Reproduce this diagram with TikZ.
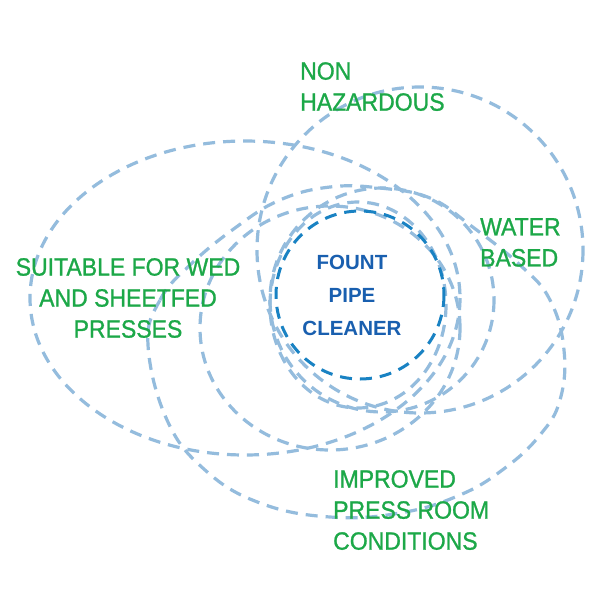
\documentclass[tikz,border=0pt]{standalone}
\usepackage{fontspec}
\setmainfont{Liberation Sans}
\newfontfamily\labfont[FakeStretch=0.92,FakeBold=1.0]{Liberation Sans}
\newfontfamily\cenfont{Liberation Sans}
\definecolor{lineblue}{RGB}{148,188,221}
\definecolor{darkring}{RGB}{25,130,195}
\definecolor{labgreen}{RGB}{28,168,72}
\definecolor{cenblue}{RGB}{25,95,175}
\begin{document}
\begin{tikzpicture}[x=1pt,y=-1pt,
  ring/.style={draw=lineblue, line width=3.2pt, dash pattern=on 12pt off 8pt},
  core/.style={draw=darkring, line width=3pt, dash pattern=on 12pt off 8pt},
  lab/.style={text=labgreen, font=\labfont\fontsize{25}{31}\selectfont, inner sep=0pt},
  cen/.style={text=cenblue, font=\cenfont\bfseries\fontsize{20.5}{33}\selectfont, inner sep=0pt, align=center}]
\useasboundingbox (0,0) rectangle (600,600);
\fill[white] (0,0) rectangle (600,600);
% outer rings
\draw[ring] (245,298) ellipse [x radius=215, y radius=157];
\draw[ring] (420,250) circle [radius=163];
\draw[ring] plot[smooth cycle, tension=0.7] coordinates {(148,345) (160,300) (190,265) (235,228) (280,200) (330,187) (380,188) (430,198) (470,225) (520,265) (550,300) (564,350) (560,400) (540,435) (505,468) (460,495) (400,513) (330,517) (260,503) (205,470) (167,420)};
\draw[ring] (330,328) ellipse [x radius=130, y radius=122];
% inner rings
\draw[ring] (382,300) circle [radius=112];
\draw[ring] (358,305) ellipse [x radius=88, y radius=103];
\draw[core] (360,295) circle [radius=84];
% labels
\node[cen] (core) at (352,295) {FOUNT\\PIPE\\CLEANER};
\node[lab, anchor=north west, align=left] (haz) at (300,62) {NON\\HAZARDOUS};
\node[lab, anchor=north west, align=left] (water) at (480,218) {WATER\\BASED};
\node[lab, align=center] (press) at (128,298) {SUITABLE FOR WED\\AND SHEETFED\\PRESSES};
\node[lab, anchor=north west, align=left] (room) at (333,470) {IMPROVED\\PRESS ROOM\\CONDITIONS};
\end{tikzpicture}
\end{document}
